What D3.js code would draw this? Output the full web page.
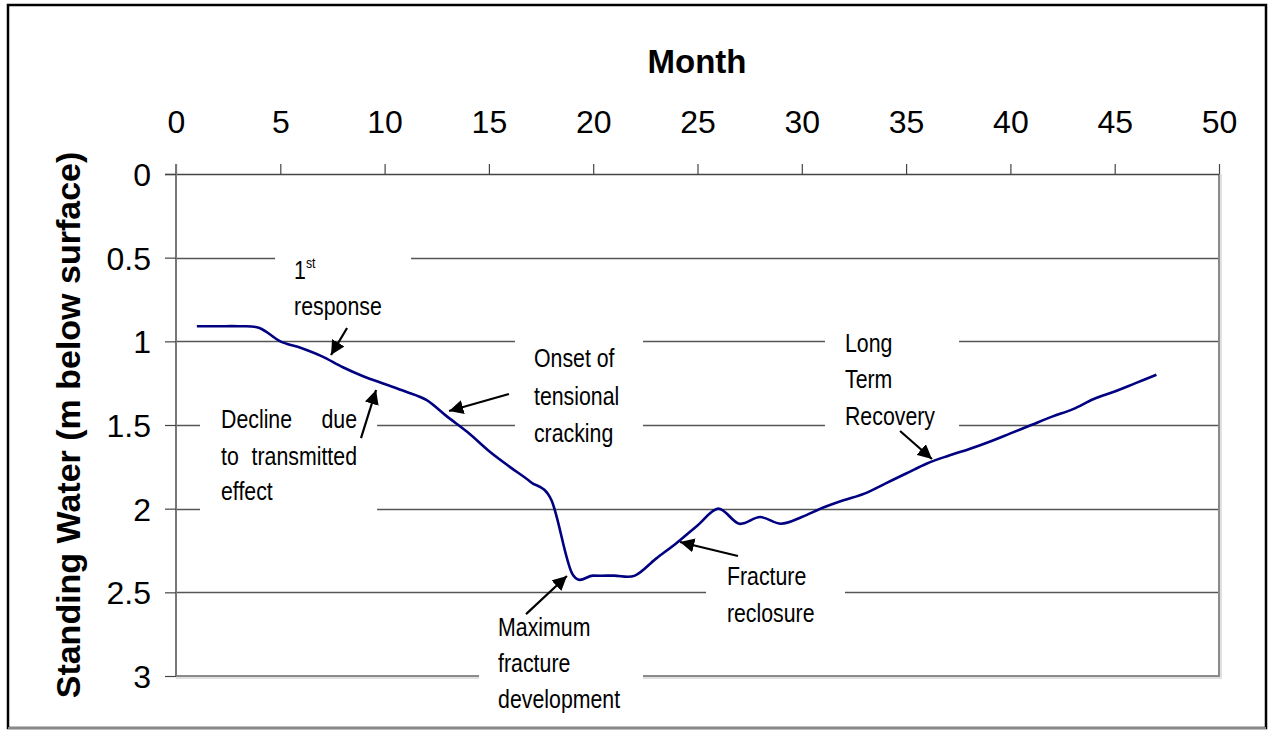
<!DOCTYPE html>
<html>
<head>
<meta charset="utf-8">
<script src="https://cdn.jsdelivr.net/npm/d3@7"></script>
<style>
  html, body { margin: 0; padding: 0; background: #fff; }
  svg { display: block; }
</style>
</head>
<body>
<svg id="chart" width="1272" height="730"></svg>
<script>
// ---- data ----
const months = [1,2,3,4,5,6,7,8,9,10,11,12,13,14,15,16,17,18,19,20,21,22,23,24,25,26,27,28,29,30,31,32,33,34,35,36,37,38,39,40,41,42,43,44,45,46,47];
const depth  = [0.91,0.91,0.91,0.92,1.0,1.04,1.09,1.155,1.21,1.255,1.30,1.35,1.45,1.545,1.655,1.75,1.84,1.95,2.39,2.40,2.40,2.40,2.30,2.205,2.10,2.0,2.09,2.05,2.09,2.05,1.995,1.95,1.91,1.85,1.79,1.73,1.685,1.645,1.60,1.55,1.50,1.45,1.405,1.345,1.30,1.25,1.20];
const xTicks = [0,5,10,15,20,25,30,35,40,45,50];
const yTicks = [0,0.5,1,1.5,2,2.5,3];
const xTitle = "Month";
const yTitle = "Standing Water (m below surface)";

// annotation boxes (data units) that mask gridlines
const boxes = [
  {x0:4.75, x1:11.27, y0:0.39, y1:0.93},
  {x0:1.15, x1:9.64, y0:1.35, y1:2.04},
  {x0:16.25, x1:22.39, y0:0.96, y1:1.65},
  {x0:31.11, x1:37.54, y0:0.93, y1:1.59},
  {x0:25.41, x1:32.07, y0:2.31, y1:2.755},
  {x0:14.53, x1:22.39, y0:2.576, y1:3.29}
];
// annotation texts (month, depth of baseline)
const labels = [
  {t:"response", x:5.66, y:0.843},
  {t:"Decline", x:2.157, y:1.518},
  {t:"due", x:8.677, y:1.518, anchor:"end"},
  {t:"to", x:2.157, y:1.739},
  {t:"transmitted", x:8.677, y:1.739, anchor:"end"},
  {t:"effect", x:2.157, y:1.948},
  {t:"Onset of", x:17.16, y:1.153},
  {t:"tensional", x:17.16, y:1.381},
  {t:"cracking", x:17.16, y:1.602},
  {t:"Long", x:32.07, y:1.064},
  {t:"Term", x:32.07, y:1.279},
  {t:"Recovery", x:32.07, y:1.50},
  {t:"Fracture", x:26.41, y:2.456},
  {t:"reclosure", x:26.41, y:2.677},
  {t:"Maximum", x:15.44, y:2.761},
  {t:"fracture", x:15.44, y:2.976},
  {t:"development", x:15.44, y:3.191}
];
// arrows: from (text side) -> to (tip)
const arrows = [
  {fx:8.20, fy:0.92, tx:7.43, ty:1.082},
  {fx:8.87, fy:1.578, tx:9.59, ty:1.291},
  {fx:15.96, fy:1.315, tx:13.09, ty:1.416},
  {fx:16.78, fy:2.63, tx:18.74, ty:2.402},
  {fx:26.94, fy:2.283, tx:24.16, ty:2.199},
  {fx:34.71, fy:1.536, tx:36.24, ty:1.703}
];

// ---- layout ----
const L = 176, R = 1219, T = 174, B = 676;
const x = d3.scaleLinear().domain([0,50]).range([L,R]);
const y = d3.scaleLinear().domain([0,3]).range([T,B]);
const svg = d3.select("#chart");
const tickFont = "'Liberation Sans', Arial, sans-serif";

// outer frame
svg.append("rect").attr("x",8).attr("y",5).attr("width",1258).attr("height",723)
  .attr("fill","none").attr("stroke","#000").attr("stroke-width",2.5);
svg.append("line").attr("x1",8).attr("x2",1266).attr("y1",728).attr("y2",728)
  .attr("stroke","#888").attr("stroke-width",2);

// gridlines
svg.append("g").selectAll("line").data(yTicks.filter(d=>d>0 && d<3)).join("line")
  .attr("x1",L).attr("x2",R).attr("y1",d=>Math.round(y(d))+0.5).attr("y2",d=>Math.round(y(d))+0.5)
  .attr("stroke","#555").attr("stroke-width",1.4);

// plot border right & bottom
svg.append("path")
  .attr("d",`M${L},${B+1} H${R+1} V${T}`)
  .attr("fill","none").attr("stroke","#e0e0e0").attr("stroke-width",4);
svg.append("path")
  .attr("d",`M${L},${B} H${R} V${T}`)
  .attr("fill","none").attr("stroke","#8a8a8a").attr("stroke-width",2);

// top axis
const xAxis = d3.axisTop(x).tickValues(xTicks).tickSize(10).tickPadding(31).tickFormat(d3.format("d"));
const gx = svg.append("g").attr("transform",`translate(0,${T})`).call(xAxis);
gx.select(".domain").attr("d",`M${L-11},0.5H${R}`).attr("stroke","#444").attr("stroke-width",1.5);
gx.selectAll(".tick line").attr("stroke","#444").attr("stroke-width",1.2);
gx.selectAll(".tick text").attr("font-family",tickFont).attr("font-size",32).attr("fill","#000");

// left axis
const yAxis = d3.axisLeft(y).tickValues(yTicks).tickSize(11).tickPadding(14).tickFormat(d=>String(d));
const gy = svg.append("g").attr("transform",`translate(${L},0)`).call(yAxis);
gy.select(".domain").attr("d",`M0,${T-10}V${B}`).attr("stroke","#777").attr("stroke-width",2);
gy.selectAll(".tick line").attr("stroke","#444").attr("stroke-width",1.2);
gy.selectAll(".tick text").attr("font-family",tickFont).attr("font-size",32).attr("fill","#000").attr("dy","0.36em");

// axis titles
svg.append("text").attr("x",(L+R)/2 - 0.5).attr("y",73).attr("text-anchor","middle")
  .attr("font-family",tickFont).attr("font-weight","bold").attr("font-size",33).text(xTitle);
svg.append("text").attr("transform",`translate(80,${(T+B)/2}) rotate(-90)`).attr("text-anchor","middle")
  .attr("font-family",tickFont).attr("font-weight","bold").attr("font-size",34).text(yTitle);

// white annotation boxes
svg.append("g").selectAll("rect").data(boxes).join("rect")
  .attr("x",d=>x(d.x0)).attr("y",d=>y(d.y0))
  .attr("width",d=>x(d.x1)-x(d.x0)).attr("height",d=>y(d.y1)-y(d.y0))
  .attr("fill","#fff");

// data line
const line = d3.line().x((d,i)=>x(months[i])).y(d=>y(d)).curve(d3.curveCatmullRom.alpha(0));
svg.append("path").datum(depth).attr("d",line)
  .attr("fill","none").attr("stroke","#000080").attr("stroke-width",2.6);

// annotation texts (condensed)
const ag = svg.append("g");
ag.selectAll("text").data(labels).join("text")
  .attr("transform",d=>`translate(${x(d.x)},${y(d.y)}) scale(0.82,1)`)
  .attr("text-anchor",d=>d.anchor||"start")
  .attr("font-family","'Liberation Sans', Arial, sans-serif").attr("font-size",26).attr("fill","#000")
  .text(d=>d.t);
// "1st"
const first = ag.append("text")
  .attr("transform",`translate(${x(5.66)},${y(0.628)}) scale(0.82,1)`)
  .attr("font-family","'Liberation Sans', Arial, sans-serif").attr("font-size",26);
first.append("tspan").text("1");
first.append("tspan").attr("font-size",15).attr("dy",-11).text("st");

// arrows
const defs = svg.append("defs");
defs.append("marker").attr("id","ah").attr("viewBox","0 0 10 10").attr("refX",10).attr("refY",5)
  .attr("markerWidth",6.5).attr("markerHeight",6.5).attr("markerUnits","strokeWidth").attr("orient","auto")
  .append("path").attr("d","M0,0 L10,5 L0,10 Z").attr("fill","#000");
svg.append("g").selectAll("line").data(arrows).join("line")
  .attr("x1",d=>x(d.fx)).attr("y1",d=>y(d.fy)).attr("x2",d=>x(d.tx)).attr("y2",d=>y(d.ty))
  .attr("stroke","#000").attr("stroke-width",2.2).attr("marker-end","url(#ah)");
</script>
</body>
</html>
